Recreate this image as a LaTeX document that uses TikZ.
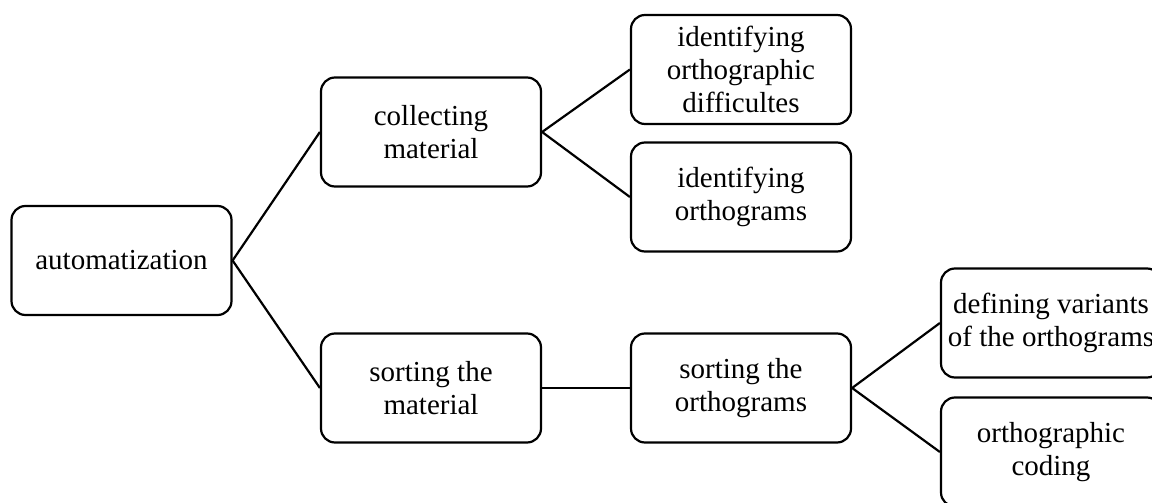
\documentclass[tikz,border=0pt]{standalone}
\usepackage{fontspec}
\setmainfont{Liberation Serif}
\begin{document}
\begin{tikzpicture}[x=1pt,y=-1pt,
  box/.style={draw=black, line width=2.2pt, rounded corners=14pt, rectangle,
    minimum width=220pt, minimum height=109pt, align=center, inner sep=2pt,
    font=\fontsize{29pt}{33pt}\selectfont},
  link/.style={draw=black, line width=2.2pt}]
\clip (0,0) rectangle (1152,503);
\useasboundingbox (0,0) rectangle (1152,503);
\node[box] (auto) at (121.5,260.5) {automatization};
\node[box] (coll) at (431,132) {collecting\\material};
\node[box] (sortm) at (431,388) {sorting the\\material};
\node[box] (diff) at (741,69.5) {identifying\\orthographic\\difficultes};
\node[box] (orth) at (741,197) {identifying\\orthograms};
\node[box] (sorto) at (741,388) {sorting the\\orthograms};
\node[box] (var) at (1051,323) {defining variants\\of the orthograms};
\node[box] (code) at (1051,452) {orthographic\\coding};
\draw[link] (auto.east) -- (coll.west);
\draw[link] (auto.east) -- (sortm.west);
\draw[link] (coll.east) -- (diff.west);
\draw[link] (coll.east) -- (orth.west);
\draw[link] (sortm.east) -- (sorto.west);
\draw[link] (sorto.east) -- (var.west);
\draw[link] (sorto.east) -- (code.west);
\end{tikzpicture}
\end{document}
